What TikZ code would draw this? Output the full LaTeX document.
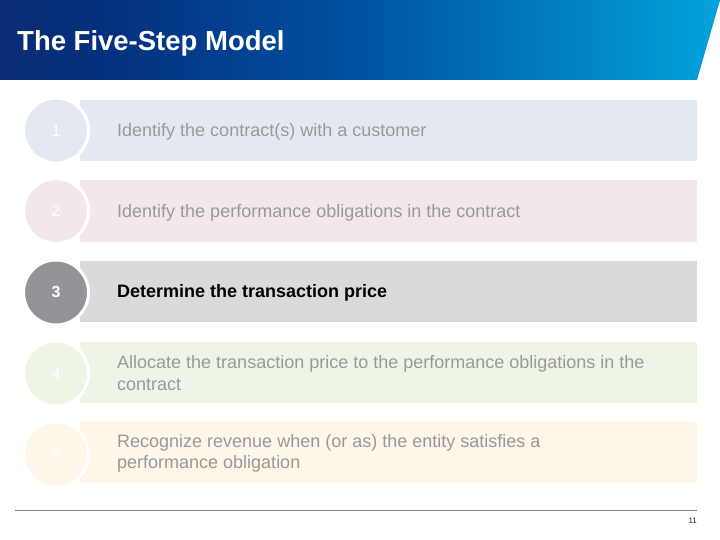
\documentclass[tikz,border=0pt]{standalone}
\usepackage{fontspec}
\setmainfont{Liberation Sans}
\definecolor{navyA}{HTML}{0A2C75}
\definecolor{navyB}{HTML}{04317F}
\definecolor{blueM}{HTML}{0052A2}
\definecolor{blueL}{HTML}{03A3DC}
\definecolor{rowA}{HTML}{E4E9F1}
\definecolor{rowB}{HTML}{F2E7E9}
\definecolor{rowC}{HTML}{D9DADB}
\definecolor{circC}{HTML}{939497}
\definecolor{rowD}{HTML}{EEF5E6}
\definecolor{rowE}{HTML}{FDF6E9}
\definecolor{greytext}{HTML}{999999}
\pgfdeclarehorizontalshading{titleshade}{100bp}{color(0bp)=(navyA); color(25bp)=(navyA); color(33bp)=(navyB); color(50bp)=(blueM); color(75bp)=(blueL); color(100bp)=(blueL)}
\tikzset{
  rowbox/.style={rectangle, inner sep=0pt, minimum width=617pt, minimum height=61pt, anchor=west},
  numcirc/.style={circle, inner sep=0pt, minimum size=65pt, draw=white, line width=3pt, text=white, font=\fontsize{16}{18}\selectfont},
  rowtext/.style={anchor=west, inner sep=0pt, align=left, text=greytext, font=\fontsize{18}{21.5}\selectfont},
}
\begin{document}
\begin{tikzpicture}[x=1pt, y=-1pt]
\useasboundingbox (0,0) rectangle (720,540);
\fill[white] (0,0) rectangle (720,540);
% title bar
\shade[shading=titleshade] (0,0) -- (720,0) -- (697,80) -- (0,80) -- cycle;
\node[anchor=west, inner sep=0pt, text=white, font=\fontsize{27.5}{30}\selectfont\bfseries] (title) at (17,43.5) {The Five-Step Model};
% row 1
\node[rowbox, fill=rowA] (r1) at (80,130.5) {};
\node[numcirc, fill=rowA] (c1) at (56,130.5) {1};
\node[rowtext] (t1) at (117,132) {Identify the contract(s) with a customer};
% row 2
\node[rowbox, fill=rowB] (r2) at (80,211) {};
\node[numcirc, fill=rowB] (c2) at (56,211) {2};
\node[rowtext] (t2) at (117,212.5) {Identify the performance obligations in the contract};
% row 3
\node[rowbox, fill=rowC] (r3) at (80,291.5) {};
\node[numcirc, fill=circC, font=\fontsize{16}{18}\selectfont\bfseries] (c3) at (56,292.5) {3};
\node[rowtext, text=black, font=\fontsize{18}{21.5}\selectfont\bfseries] (t3) at (117,293) {Determine the transaction price};
% row 4
\node[rowbox, fill=rowD] (r4) at (80,372) {};
\node[numcirc, fill=rowD] (c4) at (56,373.5) {4};
\node[rowtext] (t4) at (117,373) {Allocate the transaction price to the performance obligations in the\\contract};
% row 5
\node[rowbox, fill=rowE] (r5) at (80,452.5) {};
\node[numcirc, fill=rowE] (c5) at (56,454.5) {5};
\node[rowtext] (t5) at (117,453.5) {Recognize revenue when (or as) the entity satisfies a\\performance obligation};
% footer
\coordinate (fl) at (15,510.5);
\coordinate (fr) at (697,510.5);
\draw[color=black!50, line width=1.2pt] (fl) -- (fr);
\node[anchor=east, inner sep=0pt, text=black!85, font=\fontsize{8}{9}\selectfont] (pg) at (697,521) {11};
\end{tikzpicture}
\end{document}
